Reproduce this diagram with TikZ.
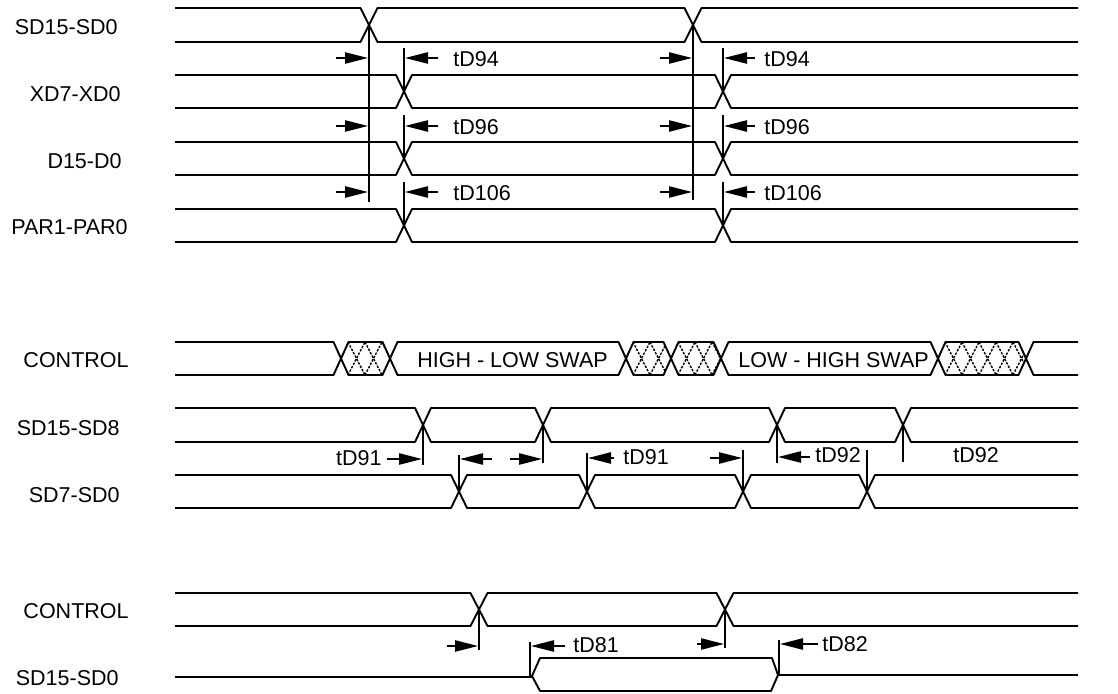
\documentclass[tikz,border=0pt]{standalone}
\usepackage{fontspec}
\setmainfont{Liberation Sans}
\usetikzlibrary{arrows.meta}
% open segment from the left edge up to crossing #3
\newcommand\segL[4]{\draw[sig] (175,#1) -- ({#3-#4},#1) -- (#3,{(#1+#2)/2}) -- ({#3-#4},#2) -- (175,#2);}
% open segment from crossing #3 to the right edge
\newcommand\segR[4]{\draw[sig] (1078,#1) -- ({#3+#4},#1) -- (#3,{(#1+#2)/2}) -- ({#3+#4},#2) -- (1078,#2);}
% closed bus segment between crossings #3 and #4
\newcommand\segM[5]{\draw[sig] (#3,{(#1+#2)/2}) -- ({#3+#5},#1) -- ({#4-#5},#1) -- (#4,{(#1+#2)/2}) -- ({#4-#5},#2) -- ({#3+#5},#2) -- cycle;}
% hatched (don't care) segment of the CONTROL row
\newcommand\hatchseg[2]{%
  \begin{scope}
    \clip (#1,358.5) -- ({#1+7.5},342) -- ({#2-7.5},342) -- (#2,358.5) -- ({#2-7.5},375) -- ({#1+7.5},375) -- cycle;
    \foreach \k in {-34,-17,...,120} {
      \draw[hat] ({#1+7+\k},342) -- ++(17,33);
      \draw[hat] ({#1+7+\k},375) -- ++(17,-33);
    }
  \end{scope}
  \segM{342}{375}{#1}{#2}{7.5}}
\begin{document}
\begin{tikzpicture}[x=0.5pt,y=-0.5pt,
  sig/.style={line width=0.95pt, line join=bevel},
  refl/.style={line width=0.8pt},
  dim/.style={line width=0.9pt,-{Triangle[length=11.5pt,width=5.6pt]}},
  lab/.style={anchor=east,inner sep=0pt,font=\fontsize{10.75}{12}\selectfont},
  tlab/.style={anchor=west,inner sep=0pt,font=\fontsize{10.75}{12}\selectfont},
  tlabr/.style={anchor=east,inner sep=0pt,font=\fontsize{10.75}{12}\selectfont},
  hat/.style={line width=0.7pt,dash pattern=on 1.2pt off 0.7pt}]
\useasboundingbox (0,0) rectangle (1118,694);

% ---------- signal names ----------
\node[lab] (l1) at (118,27) {SD15-SD0};
\node[lab] (l2) at (121,94) {XD7-XD0};
\node[lab] (l3) at (122,161) {D15-D0};
\node[lab] (l4) at (128,227) {PAR1-PAR0};
\node[lab] (l5) at (129,360) {CONTROL};
\node[lab] (l6) at (120,428) {SD15-SD8};
\node[lab] (l7) at (120,495) {SD7-SD0};
\node[lab] (l8) at (129,611) {CONTROL};
\node[lab] (l9) at (119,678) {SD15-SD0};

% ---------- upper group ----------
\segL{8}{42}{369}{8.5}\segM{8}{42}{369}{693}{8.5}\segR{8}{42}{693}{8.5}
\foreach \t/\b in {75/108,142/175,209/242}{
  \segL{\t}{\b}{404}{8}\segM{\t}{\b}{404}{723}{8}\segR{\t}{\b}{723}{8}
}
\draw[refl] (369,25) -- (369,202);
\draw[refl] (693,25) -- (693,200);
\foreach \ya/\yb in {48/91.5,115/158.5,182/225.5}{
  \draw[refl] (404,\ya) -- (404,\yb);
  \draw[refl] (723,\ya) -- (723,\yb);
}
\foreach \y/\txt in {58/tD94,126/tD96,192/tD106}{
  \draw[dim] (336,\y) -- (368,\y);
  \draw[dim] (438,\y) -- (405,\y);
  \node[tlab] at (453,{\y+1.5}) {\txt};
  \draw[dim] (660,\y) -- (692,\y);
  \draw[dim] (755,\y) -- (724,\y);
  \node[tlab] at (764,{\y+1.5}) {\txt};
}

% ---------- middle group ----------
\segL{342}{375}{341}{7.5}
\hatchseg{341}{390}
\segM{342}{375}{390}{626}{7.5}
\hatchseg{626}{671}
\hatchseg{671}{721}
\segM{342}{375}{721}{938}{7.5}
\hatchseg{938}{1026}
\segR{342}{375}{1026}{7.5}
\node[inner sep=0pt,font=\fontsize{10.75}{12}\selectfont] (hl) at (512.5,360) {HIGH - LOW SWAP};
\node[inner sep=0pt,font=\fontsize{10.75}{12}\selectfont] (lh) at (833.5,360) {LOW - HIGH SWAP};

\segL{408}{442}{423}{8}\segM{408}{442}{423}{543}{8}\segM{408}{442}{543}{777}{8}\segM{408}{442}{777}{903}{8}\segR{408}{442}{903}{8}
\segL{475}{508}{459}{8}\segM{475}{508}{459}{587}{8}\segM{475}{508}{587}{743}{8}\segM{475}{508}{743}{867}{8}\segR{475}{508}{867}{8}

\draw[refl] (423,425) -- (423,465);
\draw[refl] (543,425) -- (543,463);
\draw[refl] (777,425) -- (777,463);
\draw[refl] (903,425) -- (903,462);
\draw[refl] (459,455) -- (459,491.5);
\draw[refl] (587,453) -- (587,491.5);
\draw[refl] (743,450) -- (743,491.5);
\draw[refl] (867,450) -- (867,491.5);

\draw[dim] (387,459) -- (422,459);
\node[tlabr] (t91a) at (382,458) {tD91};
\draw[dim] (492,459) -- (460,459);
\draw[dim] (510,459) -- (542,459);
\draw[dim] (614,458) -- (588,458);
\node[tlab] (t91b) at (623,457) {tD91};
\draw[dim] (710,458) -- (742,458);
\draw[dim] (810,457) -- (778,457);
\node[tlab] (t92a) at (815,455) {tD92};
\node[tlab] (t92b) at (953,455) {tD92};

% ---------- lower group ----------
\segL{593}{626}{479}{8.5}\segM{593}{626}{479}{725}{8.5}\segR{593}{626}{725}{8.5}
\draw[sig] (175,677) -- (532,677);
\draw[sig] (532,676) -- (540,658) -- (772,658) -- (778,675) -- (771,691) -- (540,691) -- cycle;
\draw[sig] (778,675) -- (1078,675);

\draw[refl] (479,609.5) -- (479,650);
\draw[refl] (725,609.5) -- (725,648);
\draw[refl] (530,642) -- (530,676);
\draw[refl] (779,640) -- (779,675);

\draw[dim] (447,646) -- (478,646);
\draw[dim] (565,646) -- (531,646);
\node[tlab] (t81) at (573,645) {tD81};
\draw[dim] (697,644) -- (724,644);
\draw[dim] (818,644) -- (780,644);
\node[tlab] (t82) at (822,644) {tD82};
\end{tikzpicture}
\end{document}
